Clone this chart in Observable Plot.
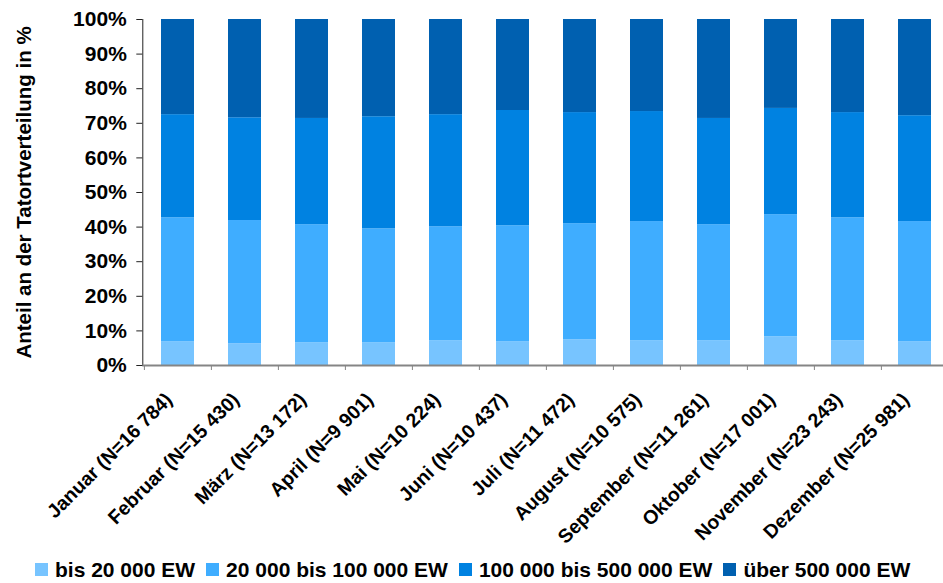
<!DOCTYPE html>
<html>
<head>
<meta charset="utf-8">
<script src="https://cdn.jsdelivr.net/npm/d3@7"></script>
<script src="https://cdn.jsdelivr.net/npm/@observablehq/plot@0.6"></script>
<style>
  body { margin: 0; background: #fff; font-family: "Liberation Sans", Arial, sans-serif; }
  #chart { width: 943px; height: 583px; overflow: hidden; position: relative; background: #fff; }
  #legend { display: flex; align-items: center; padding-left: 35px; height: 43px;
            font-weight: bold; font-size: 21px; color: #000; white-space: nowrap; }
  .item { display: flex; align-items: center; margin-right: 11px; }
  .swatch { width: 13px; height: 13px; margin-right: 7px; flex: none; }
</style>
</head>
<body>
<div id="chart"></div>
<script>
// Months and number of cases per month
const months = ["Januar", "Februar", "März", "April", "Mai", "Juni", "Juli",
                "August", "September", "Oktober", "November", "Dezember"];
const cases = [16784, 15430, 13172, 9901, 10224, 10437, 11472, 10575, 11261, 17001, 23243, 25981];

// Size classes of the crime-scene municipality (EW = Einwohner)
const groups = ["bis 20 000 EW", "20 000 bis 100 000 EW", "100 000 bis 500 000 EW", "über 500 000 EW"];
const colors = ["#77C4FF", "#3FADFF", "#0082E1", "#0060B0"];

// Share of crime scenes per size class, in percent
const upTo20k       = [6.9, 6.3, 6.6, 6.6, 7.1, 6.9, 7.4, 7.1, 7.1, 8.3, 7.1, 6.9];
const from20to100k  = [35.8, 35.6, 34.1, 32.9, 33.0, 33.5, 33.6, 34.5, 33.6, 35.3, 35.6, 34.7];
const from100to500k = [29.8, 29.7, 30.7, 32.4, 32.4, 33.3, 32.1, 31.8, 30.7, 30.7, 30.4, 30.6];
const over500k      = [27.5, 28.4, 28.6, 28.1, 27.5, 26.3, 26.9, 26.6, 28.6, 25.7, 26.9, 27.8];

const yTicks = [0, 10, 20, 30, 40, 50, 60, 70, 80, 90, 100];
const yTitle = "Anteil an der Tatortverteilung in %";

const fmtN = d3.formatLocale({decimal: ",", thousands: " ", grouping: [3], currency: ["", "€"]}).format(",d");
const categories = months.map((m, i) => `${m} (N=${fmtN(cases[i])})`);

const series = [upTo20k, from20to100k, from100to500k, over500k];
const table = [];
categories.forEach((c, i) => series.forEach((s, g) => table.push({month: c, group: groups[g], value: s[i]})));

const H = 548;
const x0 = 142.3, x1 = 948.7;
const step = (x1 - x0) / categories.length;
const font = "'Liberation Sans', Arial, sans-serif";

const chart = Plot.plot({
  width: 943,
  height: H,
  marginTop: 19,
  marginBottom: H - 365,
  marginLeft: x0,
  marginRight: 0,
  style: {fontFamily: font, fontWeight: "bold", color: "#000", background: "#fff"},
  x: {domain: categories, range: [x0, x1], paddingInner: 0.51, paddingOuter: 0.255, label: null},
  y: {domain: [0, 100], label: null},
  color: {domain: groups, range: colors},
  marks: [
    Plot.barY(table, {x: "month", y: "value", fill: "group", order: groups}),
    Plot.frame({anchor: "left", stroke: "#222", strokeWidth: 1}),
    Plot.ruleY([0], {stroke: "#858585", strokeWidth: 2}),
    Plot.axisY({ticks: yTicks, tickFormat: d => d + "%", tickSize: 6, tickPadding: 10,
                fontSize: 21, stroke: "#222", label: null}),
    Plot.axisX({tickSize: 5, tickFormat: () => "", dx: -step / 2, stroke: "#858585", label: null}),
    Plot.axisX({tickSize: 0, tickRotate: -45, tickPadding: 31, dx: -9, fontSize: 19.5, label: null}),
    Plot.text([yTitle], {text: d => d, frameAnchor: "left", textAnchor: "middle", lineAnchor: "middle",
                         rotate: -90, dx: -118, fontSize: 20.5, fontWeight: "bold", fill: "#000"})
  ]
});

const host = document.getElementById("chart");
host.appendChild(chart);

// Legend below the plot
const legend = document.createElement("div");
legend.id = "legend";
groups.forEach((g, i) => {
  const item = document.createElement("div");
  item.className = "item";
  const sw = document.createElement("span");
  sw.className = "swatch";
  sw.style.background = colors[i];
  const label = document.createElement("span");
  label.textContent = g;
  item.appendChild(sw);
  item.appendChild(label);
  legend.appendChild(item);
});
host.appendChild(legend);
</script>
</body>
</html>
